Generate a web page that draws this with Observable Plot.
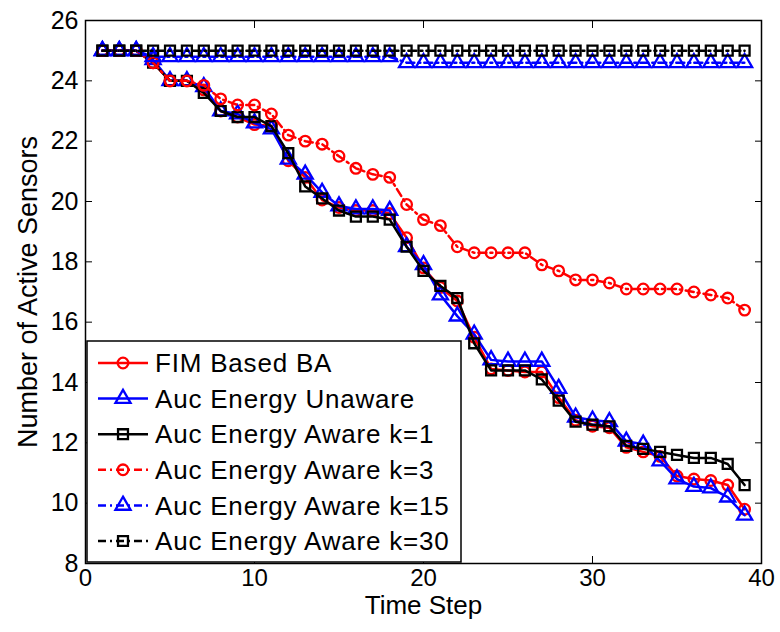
<!DOCTYPE html>
<html><head><meta charset="utf-8">
<script src="https://cdn.jsdelivr.net/npm/d3@7"></script>
<script src="https://cdn.jsdelivr.net/npm/@observablehq/plot@0.6"></script>
<style>body{margin:0;background:#fff;}</style>
</head><body><div id="chart"></div>
<script>
const steps = [1,2,3,4,5,6,7,8,9,10,11,12,13,14,15,16,17,18,19,20,21,22,23,24,25,26,27,28,29,30,31,32,33,34,35,36,37,38,39];
const fimBA = [25,25,25,24.6,24.0,24.0,23.7,23.0,22.8,22.55,22.5,21.35,20.8,20.05,19.8,19.7,19.7,19.6,18.8,17.8,17.15,16.7,15.5,14.45,14.4,14.35,14.35,13.5,12.75,12.55,12.5,11.85,11.7,11.55,10.9,10.8,10.75,10.6,9.8];
const unaware = [25,25,25,24.7,24.0,24.0,23.8,23.0,22.9,22.6,22.4,21.4,20.9,20.3,19.85,19.75,19.75,19.7,18.5,17.9,16.9,16.2,15.6,14.75,14.7,14.7,14.7,13.8,12.85,12.75,12.7,12.05,11.95,11.4,10.8,10.55,10.5,10.2,9.6];
const awareK1 = [25,25,25,24.6,24.0,24.0,23.6,23.0,22.8,22.8,22.5,21.6,20.5,20.1,19.7,19.5,19.5,19.4,18.5,17.7,17.2,16.8,15.3,14.4,14.4,14.4,14.1,13.4,12.7,12.6,12.55,11.9,11.8,11.7,11.6,11.5,11.5,11.3,10.6];
const awareK3 = [25,25,25,24.6,24.0,24.0,23.85,23.4,23.2,23.2,22.9,22.2,22.0,21.9,21.5,21.1,20.9,20.8,19.9,19.4,19.2,18.5,18.3,18.3,18.3,18.3,17.9,17.7,17.4,17.4,17.3,17.1,17.1,17.1,17.1,17.0,16.9,16.8,16.4];
const awareK15 = [25,25,25,24.8,24.8,24.8,24.8,24.8,24.8,24.8,24.8,24.8,24.8,24.8,24.8,24.8,24.8,24.8,24.6,24.6,24.6,24.6,24.6,24.6,24.6,24.6,24.6,24.6,24.6,24.6,24.6,24.6,24.6,24.6,24.6,24.6,24.6,24.6,24.6];
const awareK30 = [25,25,25,25,25,25,25,25,25,25,25,25,25,25,25,25,25,25,25,25,25,25,25,25,25,25,25,25,25,25,25,25,25,25,25,25,25,25,25];
const seriesNames = ["FIM Based BA","Auc Energy Unaware","Auc Energy Aware k=1","Auc Energy Aware k=3","Auc Energy Aware k=15","Auc Energy Aware k=30"];
const xTicks = [0,10,20,30,40];
const yTicks = [8,10,12,14,16,18,20,22,24,26];

const colors = ["#ff0000","#0000ff","#000000","#ff0000","#0000ff","#000000"];
const symbols = ["circle","triangle","square","circle","triangle","square"];
const d3Symbols = [d3.symbolCircle,d3.symbolTriangle,d3.symbolSquare,d3.symbolCircle,d3.symbolTriangle,d3.symbolSquare];
const radii = [5.3,5.6,5.6,5.3,5.6,5.6];
const dashes = [null,null,null,"8,4,2,4","8,4,2,4","8,4,2,4"];
const allSeries = [fimBA, unaware, awareK1, awareK3, awareK15, awareK30];

const rows = allSeries.flatMap((vals, s) => vals.map((v, i) => ({step: steps[i], value: v, s})));

const marks = [];
allSeries.forEach((vals, s) => {
  const data = rows.filter(d => d.s === s);
  marks.push(Plot.line(data, {x: "step", y: "value", stroke: colors[s], strokeWidth: 2.5, strokeDasharray: dashes[s] ?? undefined}));
  marks.push(Plot.dot(data, {x: "step", y: "value", symbol: symbols[s], r: radii[s], stroke: colors[s], fill: "none", strokeWidth: 2.3}));
});

const plot = Plot.plot({
  width: 780, height: 632,
  marginLeft: 85, marginRight: 19, marginTop: 20, marginBottom: 69,
  style: {fontFamily: "'Liberation Sans', Arial, sans-serif", fontSize: "24px", background: "white", color: "black"},
  x: {domain: [0, 40]},
  y: {domain: [8, 26]},
  marks: [
    Plot.axisX(xTicks, {anchor: "bottom", tickSize: 0, tickPadding: 5, label: null, fontSize: 24}),
    Plot.axisX(xTicks, {anchor: "bottom", tickSize: -7, text: null, label: null}),
    Plot.axisX(xTicks, {anchor: "top", tickSize: -7, text: null, label: null}),
    Plot.axisY(yTicks, {anchor: "left", tickSize: 0, tickPadding: 7, label: null, fontSize: 25}),
    Plot.axisY(yTicks, {anchor: "left", tickSize: -7, text: null, label: null}),
    Plot.axisY(yTicks, {anchor: "right", tickSize: -7, text: null, label: null}),
    ...marks,
    Plot.frame({stroke: "black", strokeWidth: 1.5}),
    Plot.text(["Time Step"], {frameAnchor: "bottom", dy: 50, fontSize: 26, fill: "black", textAnchor: "middle"}),
    Plot.text(["Number of Active Sensors"], {frameAnchor: "left", dx: -57, rotate: -90, fontSize: 27, fill: "black", textAnchor: "middle", style: "letter-spacing:1px"})
  ]
});

// legend
const svg = d3.select(plot);
const g = svg.append("g").attr("class", "legend");
g.append("rect").attr("x", 87).attr("y", 341).attr("width", 374).attr("height", 221)
  .attr("fill", "white").attr("stroke", "black").attr("stroke-width", 1.5);
seriesNames.forEach((n, i) => {
  const y = 363 + i * 35.6;
  g.append("line").attr("x1", 98).attr("x2", 148).attr("y1", y).attr("y2", y)
    .attr("stroke", colors[i]).attr("stroke-width", 2.5).attr("stroke-dasharray", dashes[i]);
  g.append("path").attr("d", d3.symbol(d3Symbols[i], Math.PI * radii[i] * radii[i])())
    .attr("transform", `translate(123,${y})`).attr("fill", "none").attr("stroke", colors[i]).attr("stroke-width", 2.3);
  g.append("text").attr("x", 155).attr("y", y).attr("dy", "0.35em").attr("font-size", 26)
    .attr("text-anchor", "start").attr("letter-spacing", "0.8px").attr("fill", "black").text(n);
});

document.getElementById("chart").appendChild(plot);
</script>
</body></html>
